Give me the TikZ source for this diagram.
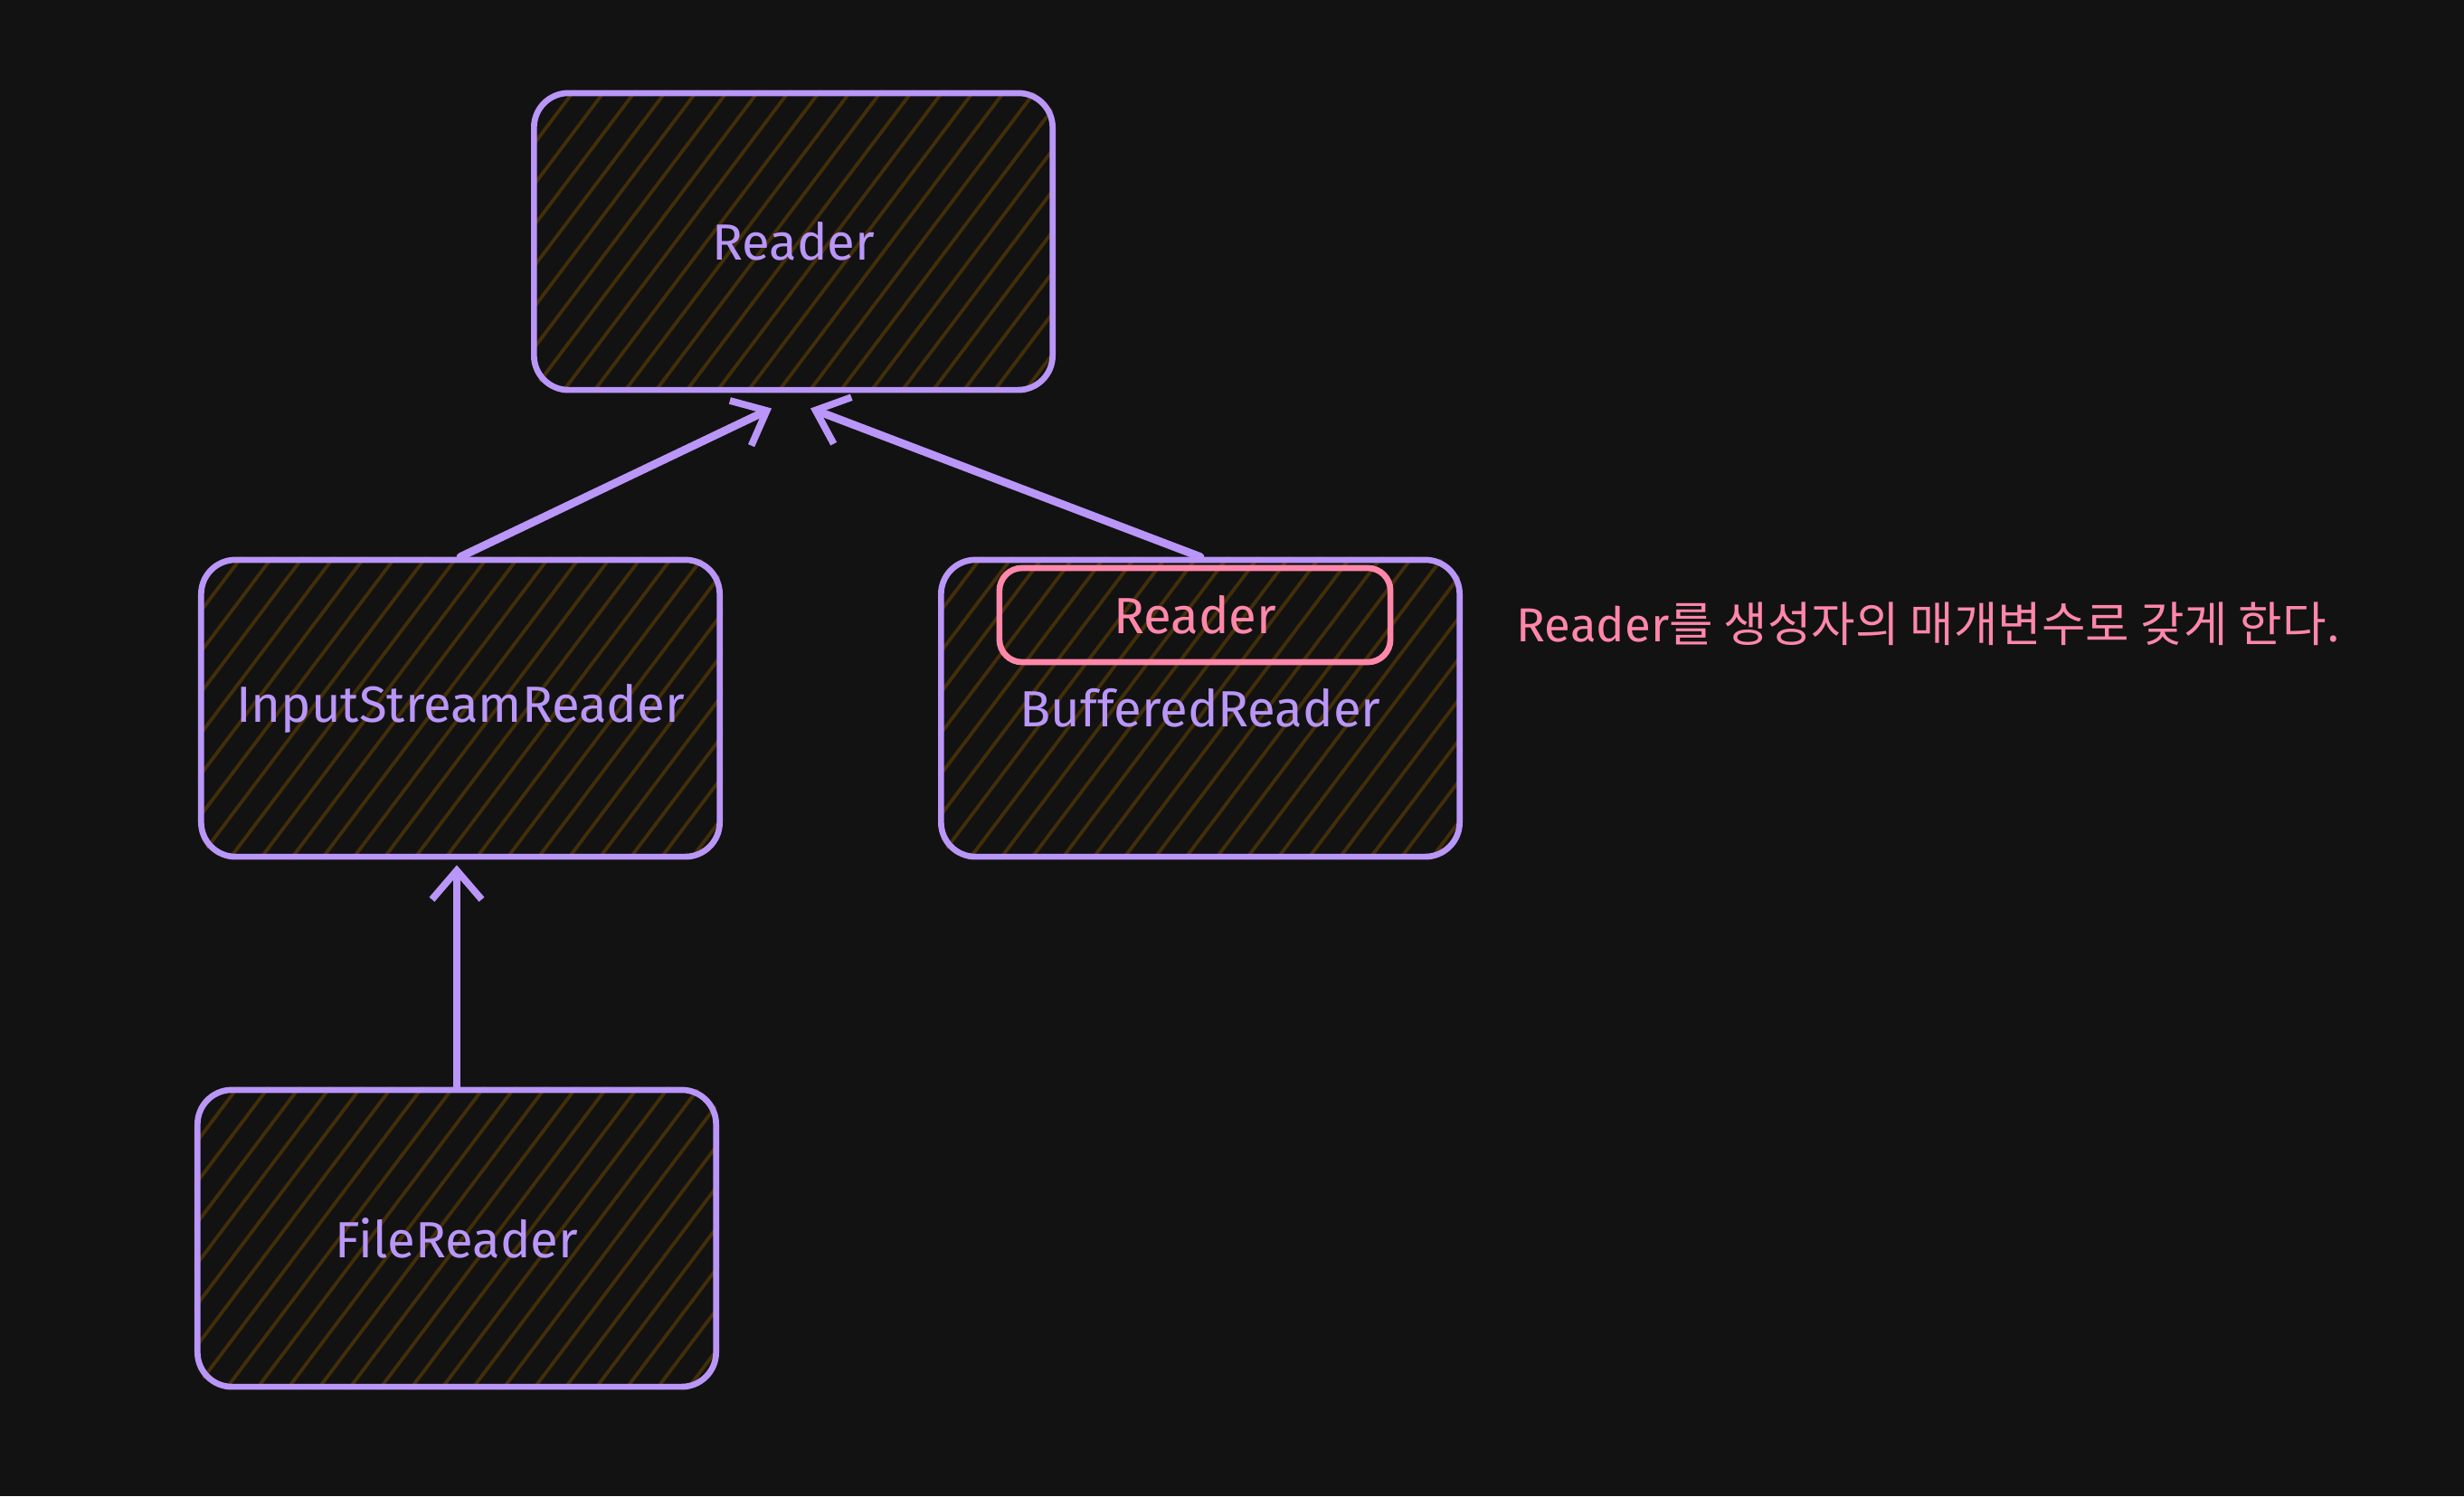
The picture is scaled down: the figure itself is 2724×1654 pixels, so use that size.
\documentclass[tikz,border=0pt]{standalone}
\usepackage{fontspec}
\setmainfont{Fira Sans}
\newfontfamily\krfont{Noto Sans CJK KR}
\usetikzlibrary{arrows.meta,backgrounds,calc}
\definecolor{bgc}{RGB}{18,18,18}
\definecolor{vio}{RGB}{185,150,248}
\definecolor{pnk}{RGB}{255,135,170}
\definecolor{hat}{RGB}{66,46,8}
\tikzset{
  cls/.style={draw=vio, line width=1.9pt, rounded corners=0.38cm,
    minimum width=5.73cm, minimum height=3.28cm, text=vio,
    font=\fontsize{16}{19}\selectfont},
  inner/.style={draw=pnk, line width=1.9pt, rounded corners=0.25cm,
    minimum width=4.32cm, minimum height=1.04cm, text=pnk,
    font=\fontsize{16}{19}\selectfont},
  note/.style={text=pnk, anchor=west, inner sep=0pt,
    font=\fontsize{15}{18}\selectfont},
  arr/.style={draw=vio, line width=2.5pt, line cap=round,
    -{Straight Barb[length=0.32cm, width=0.55cm, line width=2.2pt]}},
  hatchln/.style={draw=hat, line width=1.1pt}
}
\newcommand\hatchit[1]{%
  \begin{scope}
    \clip[rounded corners=0.38cm] (#1.south west) rectangle (#1.north east);
    \foreach \i in {-10,...,20}
      \draw[hatchln] ($(#1.south west)+(\i*0.34cm,0)$) -- ++(53:6cm);
  \end{scope}}
\begin{document}
\begin{tikzpicture}[x=0.01cm, y=-0.01cm]
  \node[cls] (rd)  at (877,267)  {Reader};
  \node[cls] (isr) at (509,783)  {InputStreamReader};
  \node[cls] (br)  at (1327,783) {BufferedReader};
  \node[cls] (fr)  at (505,1369) {FileReader};
  \node[inner] (in) at (1321,680) {Reader};
  \node[note] (nt) at (1676,690) {Reader{\krfont 를 생성자의 매개변수로 갖게 한다.}};
  \begin{scope}[on background layer]
    \fill[bgc] (0,0) rectangle (2724,1654);
    \hatchit{rd}
    \hatchit{isr}
    \hatchit{br}
    \hatchit{fr}
  \end{scope}
  \draw[arr] (isr.north) -- ([xshift=-0.24cm,yshift=-0.17cm]rd.south);
  \draw[arr] (br.north) -- ([xshift=0.19cm,yshift=-0.17cm]rd.south);
  \draw[arr] (fr.north) -- ([yshift=-0.06cm]fr.north |- isr.south);
\end{tikzpicture}
\end{document}
